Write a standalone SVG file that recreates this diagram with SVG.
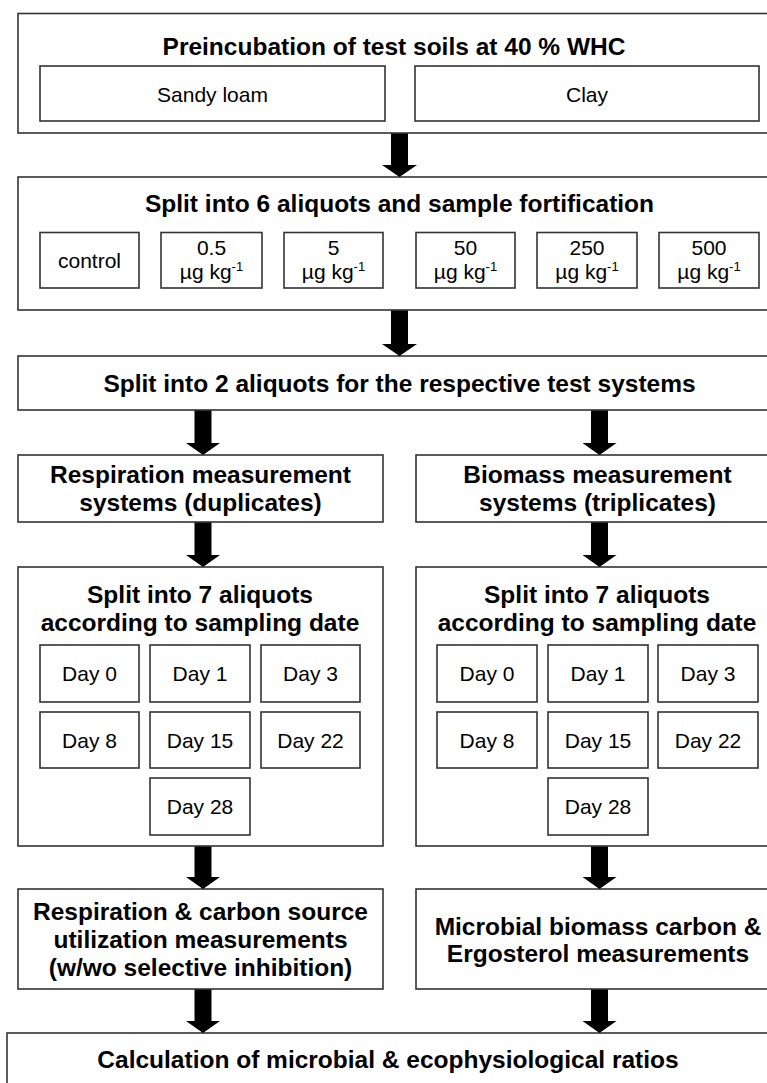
<svg xmlns="http://www.w3.org/2000/svg" width="767" height="1083" viewBox="0 0 767 1083">
<style>
.box{fill:#fff;stroke:#333;stroke-width:1.6}
.h{font-family:"Liberation Sans",Arial,sans-serif;font-weight:bold;font-size:24.5px;fill:#000;text-anchor:middle}
.t{font-family:"Liberation Sans",Arial,sans-serif;font-size:21px;fill:#000;text-anchor:middle}
.sup{font-size:13px}
.arr{fill:#000}
</style>
<rect width="767" height="1083" fill="#fff"/>
<g id="n1">
<rect class="box" x="18" y="13.5" width="752" height="119.5"/>
<text class="h" x="394" y="54.5">Preincubation of test soils at 40 % WHC</text>
<g id="n1a"><rect class="box" x="40" y="66" width="345" height="55"/><text class="t" x="212.5" y="101.5">Sandy loam</text></g>
<g id="n1b"><rect class="box" x="415" y="66" width="344" height="55"/><text class="t" x="587" y="101.5">Clay</text></g>
</g>
<g id="n2">
<rect class="box" x="18" y="177" width="752" height="133"/>
<text class="h" x="399.5" y="211.5">Split into 6 aliquots and sample fortification</text>
<g id="n2a"><rect class="box" x="40" y="232.5" width="99" height="55.5"/><text class="t" x="89.5" y="268">control</text></g>
<g id="n2b"><rect class="box" x="161" y="232.5" width="101" height="55.5"/><text class="t" x="211.5" y="255">0.5</text><text class="t" x="211.5" y="279">µg kg<tspan class="sup" dy="-8">-1</tspan></text></g>
<g id="n2c"><rect class="box" x="284" y="232.5" width="99" height="55.5"/><text class="t" x="333.5" y="255">5</text><text class="t" x="333.5" y="279">µg kg<tspan class="sup" dy="-8">-1</tspan></text></g>
<g id="n2d"><rect class="box" x="416" y="232.5" width="99" height="55.5"/><text class="t" x="465.5" y="255">50</text><text class="t" x="465.5" y="279">µg kg<tspan class="sup" dy="-8">-1</tspan></text></g>
<g id="n2e"><rect class="box" x="537" y="232.5" width="100" height="55.5"/><text class="t" x="587" y="255">250</text><text class="t" x="587" y="279">µg kg<tspan class="sup" dy="-8">-1</tspan></text></g>
<g id="n2f"><rect class="box" x="659" y="232.5" width="100" height="55.5"/><text class="t" x="709" y="255">500</text><text class="t" x="709" y="279">µg kg<tspan class="sup" dy="-8">-1</tspan></text></g>
</g>
<g id="n3">
<rect class="box" x="18" y="356" width="752" height="54"/>
<text class="h" x="399.5" y="391.5">Split into 2 aliquots for the respective test systems</text>
</g>
<g id="n4">
<rect class="box" x="18" y="455" width="365" height="67"/>
<text class="h" x="200.5" y="483">Respiration measurement</text>
<text class="h" x="200.5" y="511">systems (duplicates)</text>
</g>
<g id="n5">
<rect class="box" x="416" y="455" width="363" height="67"/>
<text class="h" x="597.5" y="483">Biomass measurement</text>
<text class="h" x="597.5" y="511">systems (triplicates)</text>
</g>
<g id="n6">
<rect class="box" x="18" y="567" width="365" height="279"/>
<text class="h" x="200" y="603">Split into 7 aliquots</text>
<text class="h" x="200" y="631">according to sampling date</text>
<g><rect class="box" x="40" y="645" width="99" height="57"/><text class="t" x="89.5" y="681">Day 0</text></g>
<g><rect class="box" x="150" y="645" width="100" height="57"/><text class="t" x="200" y="681">Day 1</text></g>
<g><rect class="box" x="261" y="645" width="99" height="57"/><text class="t" x="310.5" y="681">Day 3</text></g>
<g><rect class="box" x="40" y="712" width="99" height="56"/><text class="t" x="89.5" y="748">Day 8</text></g>
<g><rect class="box" x="150" y="712" width="100" height="56"/><text class="t" x="200" y="748">Day 15</text></g>
<g><rect class="box" x="261" y="712" width="99" height="56"/><text class="t" x="310.5" y="748">Day 22</text></g>
<g><rect class="box" x="150" y="778" width="100" height="57"/><text class="t" x="200" y="814">Day 28</text></g>
</g>
<g id="n7">
<rect class="box" x="416" y="567" width="363" height="279"/>
<text class="h" x="597" y="603">Split into 7 aliquots</text>
<text class="h" x="597" y="631">according to sampling date</text>
<g><rect class="box" x="437" y="645" width="100" height="57"/><text class="t" x="487" y="681">Day 0</text></g>
<g><rect class="box" x="548" y="645" width="100" height="57"/><text class="t" x="598" y="681">Day 1</text></g>
<g><rect class="box" x="658" y="645" width="100" height="57"/><text class="t" x="708" y="681">Day 3</text></g>
<g><rect class="box" x="437" y="712" width="100" height="56"/><text class="t" x="487" y="748">Day 8</text></g>
<g><rect class="box" x="548" y="712" width="100" height="56"/><text class="t" x="598" y="748">Day 15</text></g>
<g><rect class="box" x="658" y="712" width="100" height="56"/><text class="t" x="708" y="748">Day 22</text></g>
<g><rect class="box" x="548" y="778" width="100" height="57"/><text class="t" x="598" y="814">Day 28</text></g>
</g>
<g id="n8">
<rect class="box" x="18" y="889" width="365" height="100"/>
<text class="h" x="200.5" y="920">Respiration &amp; carbon source</text>
<text class="h" x="200.5" y="948">utilization measurements</text>
<text class="h" x="200.5" y="976">(w/wo selective inhibition)</text>
</g>
<g id="n9">
<rect class="box" x="416" y="889" width="363" height="100"/>
<text class="h" x="598" y="935">Microbial biomass carbon &amp;</text>
<text class="h" x="598" y="962">Ergosterol measurements</text>
</g>
<g id="n10">
<rect class="box" x="7" y="1033" width="762" height="80"/>
<text class="h" x="388" y="1068">Calculation of microbial &amp; ecophysiological ratios</text>
</g>
<g id="connectors">
<path class="arr" d="M391 133.5H408V165H417L399.5 177L382 165H391Z"/>
<path class="arr" d="M391 310.5H408V344H417L399.5 356L382 344H391Z"/>
<path class="arr" d="M194.5 410.5H211.5V443H220L203 455L186 443H194.5Z"/>
<path class="arr" d="M591 410.5H608V443H616.5L599.5 455L582.5 443H591Z"/>
<path class="arr" d="M194.5 522.5H211.5V555H220L203 567L186 555H194.5Z"/>
<path class="arr" d="M591 522.5H608V555H616.5L599.5 567L582.5 555H591Z"/>
<path class="arr" d="M194.5 846.5H211.5V877H220L203 889L186 877H194.5Z"/>
<path class="arr" d="M591 846.5H608V877H616.5L599.5 889L582.5 877H591Z"/>
<path class="arr" d="M194.5 989.5H211.5V1021H220L203 1033L186 1021H194.5Z"/>
<path class="arr" d="M591 989.5H608V1021H616.5L599.5 1033L582.5 1021H591Z"/>
</g>
</svg>
